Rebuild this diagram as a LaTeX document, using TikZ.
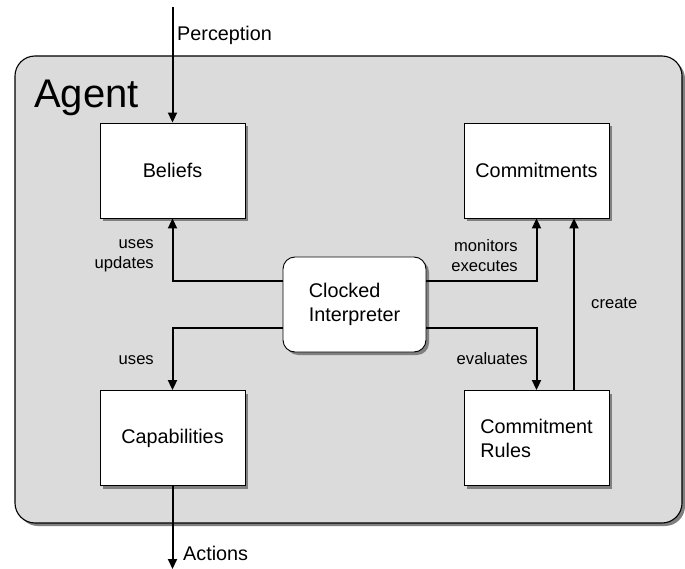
\documentclass[tikz,border=0pt]{standalone}
\usepackage{fontspec}
\setmainfont{Liberation Sans}
\usetikzlibrary{arrows.meta,shadows}

\begin{document}
\begin{tikzpicture}[x=1pt,y=-1pt,
  boxshadow/.style={drop shadow={shadow xshift=3pt,shadow yshift=-3pt,fill=black!50,opacity=1}},
  module/.style={draw,line width=0.9pt,fill=white,minimum width=145pt,minimum height=95pt,
    inner sep=0pt,align=left,font=\fontsize{19.8}{24}\selectfont,boxshadow},
  interp/.style={module,minimum width=143pt,rounded corners=12pt},
  lbl/.style={inner sep=0pt,font=\fontsize{16.6}{20}\selectfont},
  biglbl/.style={inner sep=0pt,font=\fontsize{19.8}{24}\selectfont},
  arr/.style={line width=2pt,-{Triangle[length=10pt,width=9pt]}},
  link/.style={line width=2pt}]
\useasboundingbox (0,0) rectangle (685,569);

% the agent container
\node (agent) [draw,line width=1.1pt,fill=black!14,rounded corners=20pt,
  minimum width=667pt,minimum height=467pt,inner sep=0pt,boxshadow] at (348.5,289.5) {};
\node (agentlbl) [anchor=base west,inner sep=0pt,font=\fontsize{40}{48}\selectfont] at (34,108) {Agent};

% modules
\node (beliefs) [module] at (172.5,170.5) {Beliefs};
\node (commit)  [module] at (536.5,170.5) {Commitments};
\node (capab)   [module] at (172.5,438) {Capabilities};
\node (rules)   [module] at (536.5,438) {Commitment\\Rules};
\node (clock)   [interp] at (354.5,304.5) {Clocked\\Interpreter};

% external flows
\coordinate (percin) at (172.5,7);
\coordinate (actout) at (172.5,569);
\draw[arr] (percin) -- (beliefs.north);
\draw[arr] (capab.south) -- (actout);
\node (perc) [biglbl,anchor=west] at (177,35) {Perception};
\node (act)  [biglbl,anchor=west] at (183,553) {Actions};

% interpreter links
\draw[arr] ([yshift=23.5pt]clock.west) -| (beliefs.south);
\draw[arr] ([yshift=-23.5pt]clock.west) -| (capab.north);
\draw[arr] ([yshift=23.5pt]clock.east) -| (commit.south);
\draw[arr] ([yshift=-23.5pt]clock.east) -| (rules.north);
\draw[arr] ([xshift=37.5pt]rules.north) -- ([xshift=37.5pt]commit.south);

% link labels
\node (l1) [lbl,align=right,anchor=east] at (154,256) {uses\\updates};
\node (l2) [lbl,align=right,anchor=east] at (518,255.5) {monitors\\executes};
\node (l3) [lbl,anchor=east] at (154,360) {uses};
\node (l4) [lbl,anchor=east] at (528,359) {evaluates};
\node (l5) [lbl,anchor=west] at (591,303) {create};
\end{tikzpicture}
\end{document}
